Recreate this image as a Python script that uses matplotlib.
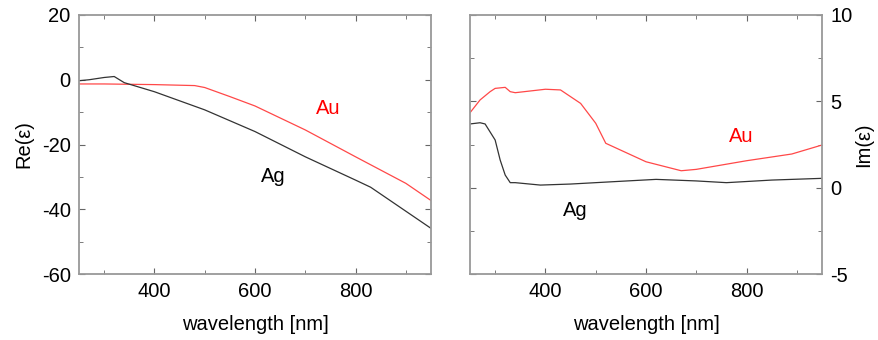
import numpy as np
import matplotlib
matplotlib.use("Agg")
import matplotlib.pyplot as plt
from matplotlib.ticker import MultipleLocator

plt.rcParams["font.family"] = ["Liberation Sans", "DejaVu Sans"]
plt.rcParams["axes.unicode_minus"] = False

# Re(eps) data
ag_re_wl = [250, 270, 300, 320, 340, 400, 500, 600, 700, 800, 830, 950]
ag_re = [-0.3, 0.0, 0.7, 1.0, -0.9, -3.7, -9.3, -16.0, -23.8, -31.0, -33.2, -45.9]
au_re_wl = [250, 300, 400, 480, 500, 550, 600, 700, 800, 900, 950]
au_re = [-1.3, -1.3, -1.5, -1.8, -2.4, -5.2, -8.1, -15.5, -23.8, -32.0, -37.3]

# Im(eps) data
au_im_wl = [250, 270, 290, 300, 320, 330, 340, 400, 430, 470, 500, 520,
            600, 670, 700, 800, 890, 950]
au_im = [4.34, 5.08, 5.56, 5.75, 5.81, 5.56, 5.5, 5.7, 5.66, 4.88, 3.73, 2.57,
         1.5, 0.98, 1.06, 1.56, 1.95, 2.47]
ag_im_wl = [250, 270, 280, 300, 310, 320, 330, 340, 390, 450, 550, 620,
            700, 760, 850, 950]
ag_im = [3.69, 3.76, 3.69, 2.76, 1.6, 0.73, 0.29, 0.29, 0.15, 0.21, 0.37, 0.48,
         0.39, 0.29, 0.44, 0.54]

black = "#333333"
red = "#ff4848"
fs = 14.5


def style(ax):
    for s in ax.spines.values():
        s.set_color("#999999")
        s.set_linewidth(1.3)
    ax.set_xlim(250, 950)
    ax.xaxis.set_major_locator(MultipleLocator(200))
    ax.xaxis.set_minor_locator(MultipleLocator(100))
    ax.tick_params(which="both", direction="in", top=True, right=True,
                   color="#666666", labelsize=fs, pad=6)
    ax.tick_params(which="major", length=4)
    ax.tick_params(which="minor", length=3)
    ax.set_xlabel("wavelength [nm]", fontsize=fs, labelpad=10)


fig = plt.figure(figsize=(8.79, 3.4), dpi=100)
ax1 = fig.add_axes([79 / 879, 1 - 274 / 340, 352 / 879, 259 / 340])
ax2 = fig.add_axes([470 / 879, 1 - 274 / 340, 352 / 879, 259 / 340])

ax1.plot(au_re_wl, au_re, color=red, lw=0.9)
ax1.plot(ag_re_wl, ag_re, color=black, lw=0.9)
style(ax1)
ax1.set_ylim(-60, 20)
ax1.yaxis.set_major_locator(MultipleLocator(20))
ax1.yaxis.set_minor_locator(MultipleLocator(10))
ax1.set_ylabel("Re(ε)", fontsize=fs, labelpad=6)
ax1.text(746, -8.8, "Au", color="red", fontsize=fs, ha="center", va="center")
ax1.text(637, -30, "Ag", color="black", fontsize=fs, ha="center", va="center")

ax2.plot(au_im_wl, au_im, color=red, lw=0.9)
ax2.plot(ag_im_wl, ag_im, color=black, lw=0.9)
style(ax2)
ax2.set_ylim(-5, 10)
ax2.yaxis.set_major_locator(MultipleLocator(5))
ax2.yaxis.set_minor_locator(MultipleLocator(2.5))
ax2.yaxis.tick_right()
ax2.tick_params(which="both", left=True, labelleft=False, labelright=True)
ax2.yaxis.set_label_position("right")
ax2.set_ylabel("Im(ε)", fontsize=fs, labelpad=1)
ax2.text(789, 2.95, "Au", color="red", fontsize=fs, ha="center", va="center")
ax2.text(459, -1.3, "Ag", color="black", fontsize=fs, ha="center", va="center")

fig.savefig("out.png", dpi=100)
